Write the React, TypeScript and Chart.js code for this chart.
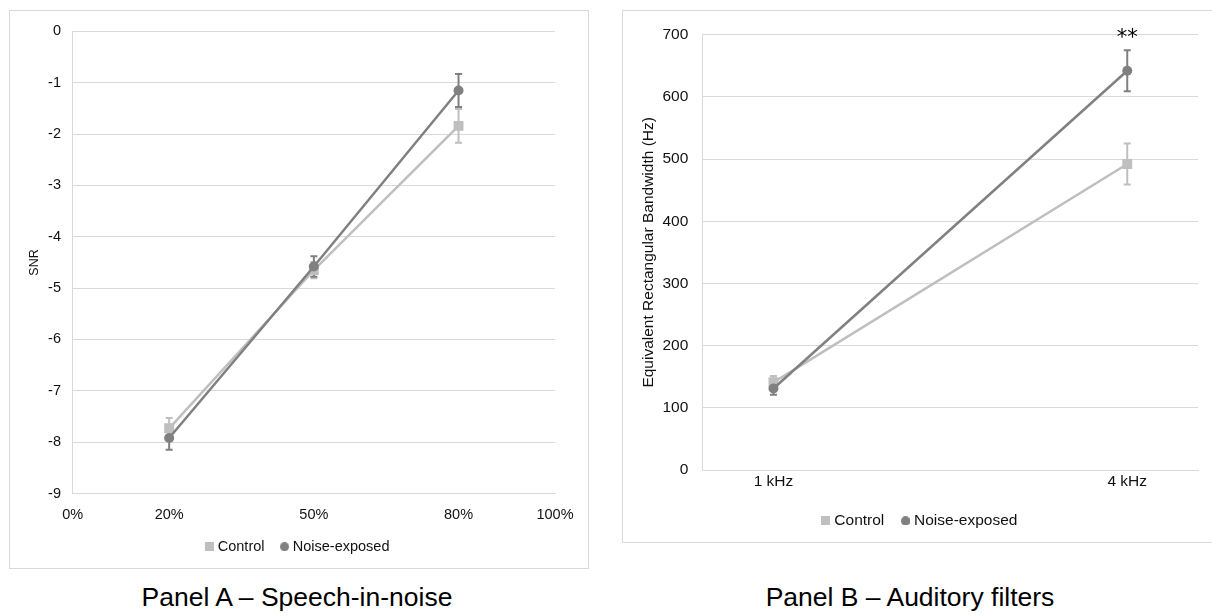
import React, { useEffect, useRef } from 'react';
import { Chart, registerables } from 'chart.js';

Chart.register(...registerables);

// ---------- Panel A data ----------
const snrLevels = [20, 50, 80];
const snrTicks = [0, 20, 50, 80, 100];
const controlSNR = [-7.73, -4.65, -1.84];
const controlSNRErr = [0.2, 0.16, 0.33];
const noiseSNR = [-7.92, -4.58, -1.15];
const noiseSNRErr = [0.23, 0.2, 0.32];

// ---------- Panel B data ----------
const freqValues = [1, 4];
const freqLabels = ['1 kHz', '4 kHz'];
const controlERB = [141, 492];
const controlERBErr = [10, 33];
const noiseERB = [131, 642];
const noiseERBErr = [10, 33];
const sigMarks = ['', '**'];

const seriesNames = ['Control', 'Noise-exposed'];
const panelTitles = ['Panel A – Speech-in-noise', 'Panel B – Auditory filters'];

const CONTROL = '#bfbfbf';
const NOISE = '#808080';
const GRID = '#d9d9d9';
const TEXT = '#111111';
const FONT = "'Liberation Sans', Arial, Helvetica, sans-serif";

function markerCanvas(shape: string, color: string, size: number) {
  const c = document.createElement('canvas');
  c.width = size;
  c.height = size;
  const ctx = c.getContext('2d')!;
  ctx.fillStyle = color;
  if (shape === 'rect') {
    ctx.fillRect(0, 0, size, size);
  } else {
    ctx.beginPath();
    ctx.arc(size / 2, size / 2, size / 2, 0, Math.PI * 2);
    ctx.fill();
  }
  return c;
}

const errorBarPlugin = {
  id: 'errorBars',
  beforeDatasetsDraw(chart: any) {
    const ctx = chart.ctx;
    const xs = chart.scales.x;
    const ys = chart.scales.y;
    chart.data.datasets.forEach((ds: any) => {
      const errs = ds.errors;
      if (!errs) return;
      ctx.save();
      ctx.strokeStyle = ds.borderColor;
      ctx.lineWidth = 2;
      ds.data.forEach((pt: any, j: number) => {
        const px = xs.getPixelForValue(pt.x);
        const top = ys.getPixelForValue(pt.y + errs[j]);
        const bot = ys.getPixelForValue(pt.y - errs[j]);
        ctx.beginPath();
        ctx.moveTo(px, top);
        ctx.lineTo(px, bot);
        ctx.moveTo(px - 3.5, top);
        ctx.lineTo(px + 3.5, top);
        ctx.moveTo(px - 3.5, bot);
        ctx.lineTo(px + 3.5, bot);
        ctx.stroke();
      });
      ctx.restore();
    });
  },
};

const sigPlugin = {
  id: 'sigMarks',
  afterDatasetsDraw(chart: any) {
    const marks = chart.options.plugins.sigMarks?.marks;
    if (!marks) return;
    const ctx = chart.ctx;
    const xs = chart.scales.x;
    const ys = chart.scales.y;
    ctx.save();
    ctx.fillStyle = '#000';
    ctx.font = "21px 'DejaVu Sans', sans-serif";
    ctx.textAlign = 'center';
    ctx.textBaseline = 'middle';
    marks.forEach((m: string, i: number) => {
      if (!m) return;
      ctx.fillText(m, xs.getPixelForValue(freqValues[i]), ys.getPixelForValue(ys.max) + 4);
    });
    ctx.restore();
  },
};

const centerLegendPlugin = {
  id: 'centerLegend',
  afterLayout(chart: any) {
    const lg = chart.legend;
    if (lg) {
      lg.left = 0;
      lg.right = chart.width;
    }
  },
};

function legendLabels(size: number) {
  return () => [
    {
      text: seriesNames[0],
      pointStyle: markerCanvas('rect', CONTROL, size),
      fillStyle: CONTROL,
      strokeStyle: 'transparent',
      lineWidth: 0,
      hidden: false,
      datasetIndex: 0,
      fontColor: TEXT,
    },
    {
      text: seriesNames[1],
      pointStyle: markerCanvas('circle', NOISE, size),
      fillStyle: NOISE,
      strokeStyle: 'transparent',
      lineWidth: 0,
      hidden: false,
      datasetIndex: 1,
      fontColor: TEXT,
    },
  ];
}

function makeDatasets(xv: number[], c: number[], ce: number[], n: number[], ne: number[]) {
  return [
    {
      label: seriesNames[0],
      data: xv.map((x, i) => ({ x, y: c[i] })),
      borderColor: CONTROL,
      backgroundColor: CONTROL,
      borderWidth: 2.5,
      pointStyle: 'rect',
      pointRadius: 7,
      pointBorderWidth: 0,
      pointBackgroundColor: CONTROL,
      errors: ce,
      order: 2,
    },
    {
      label: seriesNames[1],
      data: xv.map((x, i) => ({ x, y: n[i] })),
      borderColor: NOISE,
      backgroundColor: NOISE,
      borderWidth: 2.5,
      pointStyle: 'circle',
      pointRadius: 5,
      pointBorderWidth: 0,
      pointBackgroundColor: NOISE,
      errors: ne,
      order: 1,
    },
  ];
}

function PanelA() {
  const ref = useRef<HTMLCanvasElement>(null);
  useEffect(() => {
    const chart = new Chart(ref.current!, {
      type: 'line',
      data: { datasets: makeDatasets(snrLevels, controlSNR, controlSNRErr, noiseSNR, noiseSNRErr) as any },
      plugins: [errorBarPlugin, centerLegendPlugin],
      options: {
        animation: false,
        responsive: false,
        devicePixelRatio: 1,
        events: [],
        layout: { padding: { top: 14.3, right: 33, bottom: 4, left: 0 } },
        plugins: {
          tooltip: { enabled: false },
          legend: {
            display: true,
            position: 'bottom',
            labels: {
              usePointStyle: true,
              boxWidth: 2,
              padding: 19,
              color: TEXT,
              font: { family: FONT, size: 14.5 },
              generateLabels: legendLabels(9) as any,
            },
          },
        },
        scales: {
          x: {
            type: 'linear',
            min: 0,
            max: 100,
            afterBuildTicks: (s: any) => {
              s.ticks = snrTicks.map((v) => ({ value: v }));
            },
            afterFit: (s: any) => {
              s.height = 27;
            },
            ticks: {
              callback: (v: any) => v + '%',
              color: TEXT,
              font: { family: FONT, size: 14.5 },
              padding: 12.3,
              maxRotation: 0,
              autoSkip: false,
            },
            grid: { display: false, drawTicks: false },
            border: { display: true, color: GRID, width: 1 },
          },
          y: {
            min: -9,
            max: 0,
            afterFit: (s: any) => {
              s.width = 62.7;
            },
            ticks: {
              stepSize: 1,
              color: TEXT,
              font: { family: FONT, size: 14.5 },
              padding: 11.7,
            },
            grid: { color: GRID, drawTicks: false, lineWidth: 1 },
            border: { display: true, color: GRID, width: 1 },
            title: {
              display: true,
              text: 'SNR',
              color: TEXT,
              font: { family: FONT, size: 12.5 },
              padding: { top: 17, bottom: 0 },
            },
          },
        },
      } as any,
    });
    return () => chart.destroy();
  }, []);
  return <canvas ref={ref} width={578} height={557} style={{ display: 'block' }} />;
}

function PanelB() {
  const ref = useRef<HTMLCanvasElement>(null);
  useEffect(() => {
    const chart = new Chart(ref.current!, {
      type: 'line',
      data: { datasets: makeDatasets(freqValues, controlERB, controlERBErr, noiseERB, noiseERBErr) as any },
      plugins: [errorBarPlugin, sigPlugin, centerLegendPlugin],
      options: {
        animation: false,
        responsive: false,
        devicePixelRatio: 1,
        events: [],
        layout: { padding: { top: 14.7, right: 21, bottom: 3.5, left: 0 } },
        plugins: {
          tooltip: { enabled: false },
          sigMarks: { marks: sigMarks },
          legend: {
            display: true,
            position: 'bottom',
            labels: {
              usePointStyle: true,
              boxWidth: 2,
              padding: 20,
              color: TEXT,
              font: { family: FONT, size: 15.5 },
              generateLabels: legendLabels(9.5) as any,
            },
          },
        },
        scales: {
          x: {
            type: 'linear',
            min: 0.4,
            max: 4.6,
            afterBuildTicks: (s: any) => {
              s.ticks = freqValues.map((v) => ({ value: v }));
            },
            afterFit: (s: any) => {
              s.height = 23;
            },
            ticks: {
              callback: (v: any) => freqLabels[freqValues.indexOf(v)] ?? '',
              color: TEXT,
              font: { family: FONT, size: 15.5 },
              padding: 2.7,
              maxRotation: 0,
              autoSkip: false,
            },
            grid: { display: false, drawTicks: false },
            border: { display: true, color: GRID, width: 1 },
          },
          y: {
            min: 0,
            max: 700,
            afterFit: (s: any) => {
              s.width = 79.7;
            },
            ticks: {
              stepSize: 100,
              color: TEXT,
              font: { family: FONT, size: 15.5 },
              padding: 14.4,
            },
            grid: { color: GRID, drawTicks: false, lineWidth: 1 },
            border: { display: true, color: GRID, width: 1 },
            title: {
              display: true,
              text: 'Equivalent Rectangular Bandwidth (Hz)',
              color: TEXT,
              font: { family: FONT, size: 15.5 },
              padding: { top: 16.7, bottom: 0 },
            },
          },
        },
      } as any,
    });
    return () => chart.destroy();
  }, []);
  return <canvas ref={ref} width={596} height={531} style={{ display: 'block' }} />;
}

const captionStyle: React.CSSProperties = {
  position: 'absolute',
  top: 582,
  width: 400,
  height: 30,
  lineHeight: '30px',
  textAlign: 'center',
  fontFamily: FONT,
  fontSize: '26.5px',
  color: '#000',
  whiteSpace: 'nowrap',
};

export default function App() {
  return (
    <div
      style={{
        position: 'absolute',
        left: 0,
        top: 0,
        width: 1212,
        height: 616,
        overflow: 'hidden',
        background: '#fff',
      }}
    >
      <div
        style={{
          position: 'absolute',
          left: 9,
          top: 10,
          width: 580,
          height: 559,
          border: `1px solid ${GRID}`,
          boxSizing: 'border-box',
        }}
      >
        <PanelA />
      </div>
      <div
        style={{
          position: 'absolute',
          left: 622,
          top: 10,
          width: 598,
          height: 533,
          border: `1px solid ${GRID}`,
          boxSizing: 'border-box',
        }}
      >
        <PanelB />
      </div>
      <div style={{ ...captionStyle, left: 97 }}>{panelTitles[0]}</div>
      <div style={{ ...captionStyle, left: 710 }}>{panelTitles[1]}</div>
    </div>
  );
}
